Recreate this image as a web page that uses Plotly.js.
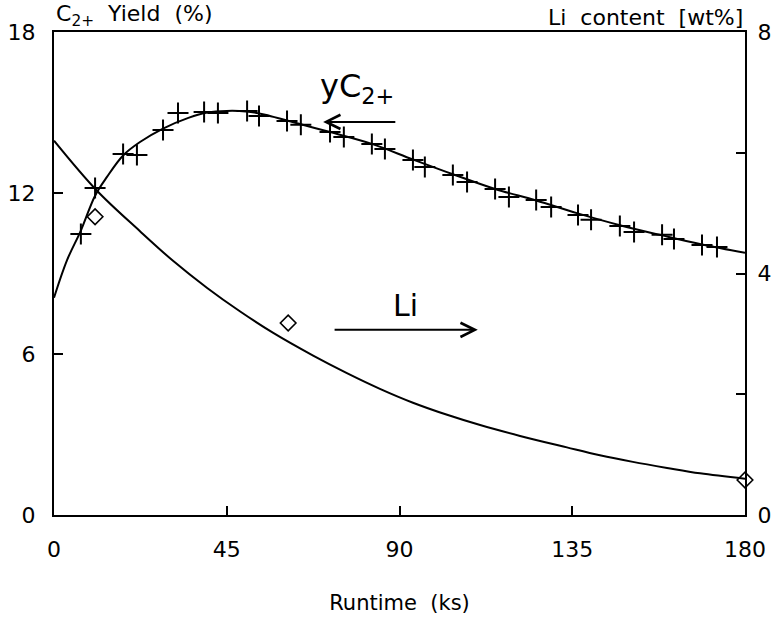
<!DOCTYPE html>
<html>
<head>
<meta charset="utf-8">
<script src="https://cdn.plot.ly/plotly-3.0.1.min.js"></script>
<style>
  html, body { margin: 0; padding: 0; background: #fff; }
  #chart { width: 777px; height: 619px; }
</style>
</head>
<body>
<div id="chart"></div>
<script>
// Measured C2+ yield (%) versus runtime (ks)
const yieldRuntime = [7.0, 10.7, 18.0, 21.6, 28.4, 32.3, 39.1, 42.7, 50.3, 53.4, 60.7, 64.3,
  71.9, 75.5, 82.8, 86.2, 93.5, 96.6, 103.9, 107.6, 114.9, 118.5, 125.6, 129.5,
  136.5, 139.9, 147.4, 151.1, 158.4, 161.5, 168.8, 172.7];
const yieldValues = [10.47, 12.19, 13.45, 13.42, 14.35, 14.98, 15.02, 14.98, 15.06, 14.87, 14.68, 14.54,
  14.27, 14.09, 13.83, 13.64, 13.23, 12.97, 12.67, 12.41, 12.15, 11.85, 11.74, 11.48,
  11.18, 11.00, 10.77, 10.55, 10.44, 10.29, 10.06, 9.99];

// Fitted C2+ yield curve
const yieldFitRuntime = [0, 3.4, 7.0, 10.7, 13.8, 18.0, 22.4, 28.4, 35, 40, 45, 50, 55, 60.7,
  71.9, 82.8, 93.5, 103.9, 114.9, 125.6, 136.2, 147.4, 158.4, 168.8, 180];
const yieldFitValues = [8.1, 9.5, 10.6, 11.9, 12.6, 13.4, 13.9, 14.4, 14.8, 15.0, 15.06, 15.04, 14.92, 14.7,
  14.27, 13.83, 13.25, 12.7, 12.15, 11.72, 11.25, 10.8, 10.42, 10.08, 9.77];

// Measured Li content (wt%)
const liRuntime = [10.7, 61.0, 180];
const liValues = [4.94, 3.18, 0.58];

// Fitted Li content curve
const liFitRuntime = [0, 11.2, 22.4, 31, 39.9, 48.5, 57, 67.5, 76.3, 84.9, 93.5, 102.4, 111,
  121.4, 133.6, 142.2, 150.8, 159.7, 168.3, 180];
const liFitValues = [6.2, 5.37, 4.7, 4.21, 3.76, 3.37, 3.02, 2.64, 2.35, 2.09, 1.86, 1.66, 1.49,
  1.31, 1.12, 0.99, 0.88, 0.78, 0.69, 0.6];

// Axis ticks
const xTicks = [0, 45, 90, 135, 180];
const yTicks = [0, 6, 12, 18];
const y2Ticks = [0, 4, 8];

const FONT = 'DejaVu Sans, Liberation Sans, sans-serif';
const INK = '#000';

const traces = [
  {
    x: yieldFitRuntime, y: yieldFitValues, type: 'scatter', mode: 'lines',
    line: { color: INK, width: 2, shape: 'spline', smoothing: 1 },
    hoverinfo: 'skip', showlegend: false
  },
  {
    x: yieldRuntime, y: yieldValues, type: 'scatter', mode: 'markers',
    marker: { symbol: 'cross-thin-open', size: 15, color: INK, line: { color: INK, width: 2 } },
    showlegend: false, cliponaxis: false
  },
  {
    x: liFitRuntime, y: liFitValues, type: 'scatter', mode: 'lines', yaxis: 'y2',
    line: { color: INK, width: 2, shape: 'spline', smoothing: 1 },
    hoverinfo: 'skip', showlegend: false
  },
  {
    x: liRuntime, y: liValues, type: 'scatter', mode: 'markers', yaxis: 'y2',
    marker: { symbol: 'diamond-open', size: 12, color: INK, line: { color: INK, width: 1.6 } },
    showlegend: false, cliponaxis: false
  }
];

const layout = {
  width: 777, height: 619,
  margin: { l: 54, r: 32, t: 32, b: 104 },
  paper_bgcolor: '#fff', plot_bgcolor: '#fff',
  font: { family: FONT, color: INK, size: 22 },
  showlegend: false,
  xaxis: {
    range: [0, 180], tickvals: xTicks, ticktext: xTicks.map(String),
    ticks: 'inside', ticklen: 9, tickwidth: 2, tickcolor: INK,
    showline: true, linewidth: 2, linecolor: INK, mirror: true,
    showgrid: false, zeroline: false, ticklabelstandoff: 14,
    tickfont: { family: FONT, size: 22, color: INK },
    title: { text: 'Runtime&nbsp;&nbsp;(ks)', font: { family: FONT, size: 21, color: INK }, standoff: 34 }
  },
  yaxis: {
    range: [0, 18], tickvals: yTicks, ticktext: yTicks.map(String),
    ticks: 'inside', ticklen: 9, tickwidth: 2, tickcolor: INK,
    showline: true, linewidth: 2, linecolor: INK,
    showgrid: false, zeroline: false, ticklabelstandoff: 12,
    tickfont: { family: FONT, size: 22, color: INK }
  },
  yaxis2: {
    range: [0, 8], overlaying: 'y', side: 'right',
    tickvals: y2Ticks, ticktext: y2Ticks.map(String),
    ticks: 'inside', ticklen: 9, tickwidth: 2, tickcolor: INK,
    minor: { dtick: 2, ticks: 'inside', ticklen: 9, tickwidth: 2, tickcolor: INK, showgrid: false },
    showline: true, linewidth: 2, linecolor: INK,
    showgrid: false, zeroline: false, ticklabelstandoff: 6,
    tickfont: { family: FONT, size: 22, color: INK }
  },
  annotations: [
    {
      xref: 'paper', yref: 'paper', x: 0, y: 1, xanchor: 'left', yanchor: 'bottom', yshift: 0,
      text: 'C<sub>2+</sub>&nbsp;&nbsp;Yield&nbsp;&nbsp;(%)', showarrow: false,
      font: { family: FONT, size: 22, color: INK }
    },
    {
      xref: 'paper', yref: 'paper', x: 1, y: 1, xanchor: 'right', yanchor: 'bottom', yshift: 0,
      text: 'Li&nbsp;&nbsp;content&nbsp;&nbsp;[wt%]', showarrow: false,
      font: { family: FONT, size: 22, color: INK }
    },
    {
      xref: 'x', yref: 'y', x: 79, y: 15.9, xanchor: 'center', yanchor: 'middle',
      text: 'yC<sub>2+</sub>', showarrow: false,
      font: { family: FONT, size: 32, color: INK }
    },
    {
      xref: 'x', yref: 'y', x: 70.1, y: 14.65, ax: 89.3, ay: 14.65, axref: 'x', ayref: 'y',
      text: '', showarrow: true, arrowhead: 5, arrowsize: 1.4, arrowwidth: 2, arrowcolor: INK
    },
    {
      xref: 'x', yref: 'y', x: 91.5, y: 7.8, xanchor: 'center', yanchor: 'middle',
      text: 'Li', showarrow: false,
      font: { family: FONT, size: 30, color: INK }
    },
    {
      xref: 'x', yref: 'y', x: 110.4, y: 6.9, ax: 72.7, ay: 6.9, axref: 'x', ayref: 'y',
      text: '', showarrow: true, arrowhead: 5, arrowsize: 1.4, arrowwidth: 2, arrowcolor: INK
    }
  ]
};

Plotly.newPlot('chart', traces, layout, { displayModeBar: false, staticPlot: true });
</script>
</body>
</html>
